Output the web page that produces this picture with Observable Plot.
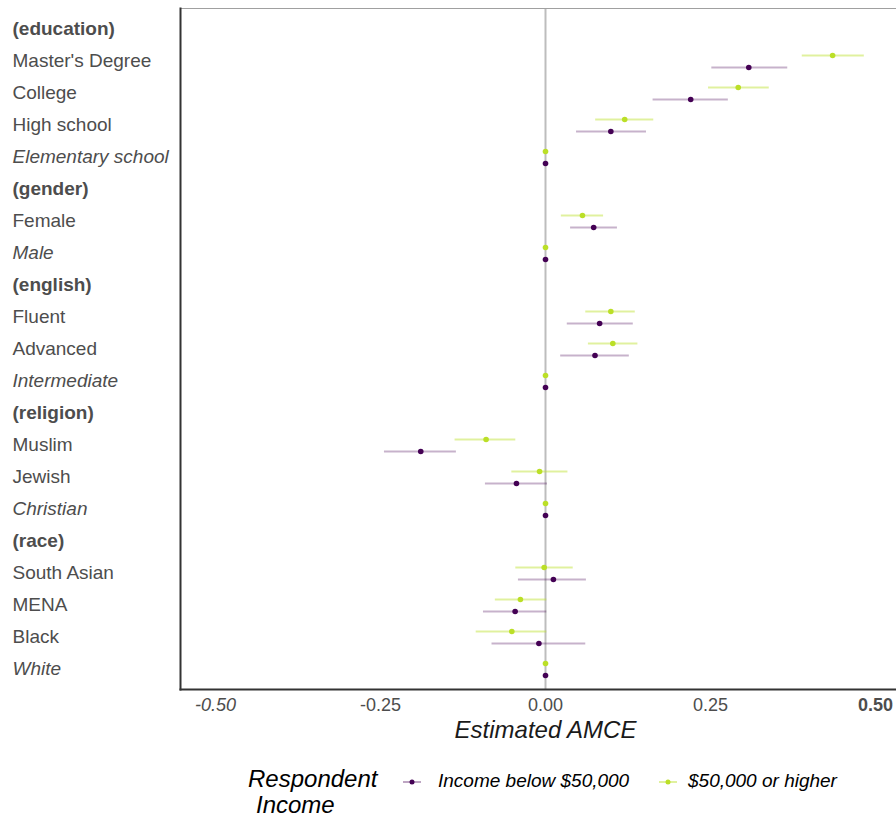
<!DOCTYPE html>
<html>
<head>
<meta charset="utf-8">
<script src="https://cdn.jsdelivr.net/npm/d3@7"></script>
<script src="https://cdn.jsdelivr.net/npm/@observablehq/plot@0.6"></script>
<style>
  html, body { margin: 0; padding: 0; background: #fff; }
  body { width: 896px; height: 819px; overflow: hidden; font-family: "Liberation Sans", Arial, sans-serif; }
  #wrap { position: relative; width: 911px; }
  #chart { width: 911px; height: 750px; }
  #chart svg { max-width: none !important; width: 911px; height: 750px; display: block; }
  #legend { position: relative; height: 69px; }
  .lg { position: absolute; font-style: italic; color: #000; white-space: nowrap; }
</style>
</head>
<body>
<div id="wrap">
  <div id="chart"></div>
  <div id="legend">
    <div class="lg" style="left:248px; top:16px; font-size:24px; line-height:26px;">Respondent<br><span style="padding-left:8px">Income</span></div>
    <svg class="lg" style="left:402px; top:22px;" width="20" height="20"><line x1="1" y1="10" x2="19" y2="10" stroke="#440154" stroke-opacity="0.35" stroke-width="2"/><circle cx="10" cy="10" r="2.5" fill="#440154"/></svg>
    <div class="lg" style="left:438px; top:20px; font-size:19px; line-height:22px;">Income below $50,000</div>
    <svg class="lg" style="left:658px; top:22px;" width="20" height="20"><line x1="1" y1="10" x2="19" y2="10" stroke="#BBDF27" stroke-opacity="0.45" stroke-width="2"/><circle cx="10" cy="10" r="2.5" fill="#BBDF27"/></svg>
    <div class="lg" style="left:688px; top:20px; font-size:19px; line-height:22px;">$50,000 or higher</div>
  </div>
</div>
<script>
// Row order (top to bottom)
const rows = ["(education)","Master's Degree","College","High school","Elementary school","(gender)","Female","Male","(english)","Fluent","Advanced","Intermediate","(religion)","Muslim","Jewish","Christian","(race)","South Asian","MENA","Black","White"];
const headers = ["(education)","(gender)","(english)","(religion)","(race)"];
const references = ["Elementary school","Male","Intermediate","Christian","White"];
const levels = ["Master's Degree","College","High school","Female","Fluent","Advanced","Muslim","Jewish","South Asian","MENA","Black"];

// Levels with estimates
const attrLevels = ["Master's Degree","College","High school","Elementary school","Female","Male","Fluent","Advanced","Intermediate","Muslim","Jewish","Christian","South Asian","MENA","Black","White"];
// Income below $50,000
const lowEst = [0.308,0.220,0.099,0,0.073,0,0.082,0.075,0,-0.189,-0.044,0,0.012,-0.046,-0.010,0];
const lowLo  = [0.252,0.163,0.047,0,0.038,0,0.033,0.023,0,-0.244,-0.091,0,-0.041,-0.094,-0.081,0];
const lowHi  = [0.367,0.277,0.153,0,0.109,0,0.133,0.127,0,-0.135,0.003,0,0.062,0.002,0.061,0];
// $50,000 or higher
const highEst = [0.435,0.292,0.120,0,0.056,0,0.099,0.102,0,-0.090,-0.009,0,-0.002,-0.038,-0.051,0];
const highLo  = [0.389,0.247,0.076,0,0.024,0,0.061,0.065,0,-0.137,-0.051,0,-0.045,-0.076,-0.105,0];
const highHi  = [0.483,0.339,0.164,0,0.088,0,0.136,0.140,0,-0.045,0.034,0,0.042,0.002,0.002,0];

const xTicks = [-0.5,-0.25,0,0.25,0.5];

const lowData = attrLevels.map((r,i) => ({row:r, est:lowEst[i], lo:lowLo[i], hi:lowHi[i]}));
const highData = attrLevels.map((r,i) => ({row:r, est:highEst[i], lo:highLo[i], hi:highHi[i]}));

const purple = "#440154", green = "#BBDF27";
const fmt = d => d.toFixed(2);
const ylab = {tickSize:0, tickPadding:0, textAnchor:"start", dx:-168, dy:-1, fontSize:19, fill:"#4d4d4d", label:null};
const xlab = {tickSize:0, tickPadding:9, fontSize:18, fill:"#4d4d4d", label:null, tickFormat: fmt};

const chart = Plot.plot({
  width: 911, height: 750,
  marginLeft: 180, marginRight: 1, marginTop: 8, marginBottom: 61,
  style: {fontFamily: '"Liberation Sans", Arial, sans-serif', background: "#fff"},
  x: {domain: [-0.553, 0.553]},
  y: {type: "point", domain: rows, padding: 0.6},
  marks: [
    Plot.ruleX([0], {stroke: "#bdbdbd", strokeWidth: 2}),
    Plot.ruleY(highData, {y:"row", x1:"lo", x2:"hi", stroke: green, strokeOpacity: 0.45, strokeWidth: 2, dy: -6}),
    Plot.ruleY(lowData, {y:"row", x1:"lo", x2:"hi", stroke: purple, strokeOpacity: 0.3, strokeWidth: 2, dy: 6}),
    Plot.dot(highData, {x:"est", y:"row", fill: green, r: 2.8, dy: -6}),
    Plot.dot(lowData, {x:"est", y:"row", fill: purple, r: 2.8, dy: 6}),
    Plot.frame({anchor: "top", stroke: "#a0a0a0", strokeWidth: 1}),
    Plot.frame({anchor: "left", stroke: "#333", strokeWidth: 2}),
    Plot.frame({anchor: "bottom", stroke: "#333", strokeWidth: 2}),
    Plot.axisY({...ylab, ticks: headers, fontWeight: "bold"}),
    Plot.axisY({...ylab, ticks: references, fontStyle: "italic"}),
    Plot.axisY({...ylab, ticks: levels}),
    Plot.axisX({...xlab, ticks: [xTicks[0]], fontStyle: "italic"}),
    Plot.axisX({...xlab, ticks: xTicks.slice(1,4)}),
    Plot.axisX({...xlab, ticks: [xTicks[4]], fontWeight: "bold"}),
    Plot.text(["Estimated AMCE"], {frameAnchor: "bottom", dy: 48, fontSize: 24, fontStyle: "italic", fill: "#1a1a1a"})
  ]
});
document.getElementById("chart").appendChild(chart);
</script>
</body>
</html>
